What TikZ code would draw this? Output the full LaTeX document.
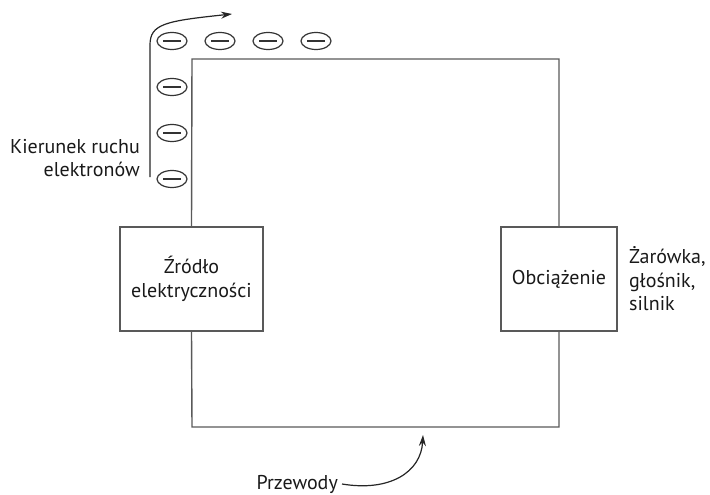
\documentclass[tikz,border=0pt]{standalone}
\usepackage{fontspec}
\setmainfont{PT Sans}
\usetikzlibrary{shapes.geometric,arrows.meta}
\tikzset{
  wire/.style={draw=black!65, line width=1.4pt},
  unit/.style={draw=black!65, line width=1.4pt, minimum width=116pt, minimum height=104pt, align=center, inner sep=0pt},
  electron/.style={ellipse, draw=black!80, line width=1.2pt, minimum width=30pt, minimum height=17pt, inner sep=0pt,
    path picture={\draw[line width=1.2pt, black!80] ([xshift=-9pt]path picture bounding box.center) -- ([xshift=9pt]path picture bounding box.center);}},
  lbl/.style={inner sep=0pt, align=left},
  pointer/.style={draw=black!85, line width=1.2pt, -{Stealth[length=11pt,width=7pt]}}
}
\begin{document}
\begin{tikzpicture}[x=1pt, y=-1pt, font=\fontsize{20}{23.5}\selectfont, text=black!90]
  \useasboundingbox (0,0) rectangle (710,495);
  \node[unit, minimum width=143pt] (src) at (191.5,279) {Źródło\\elektryczności};
  \node[unit] (load) at (559,279) {Obciążenie};
  \coordinate (tl) at (192,59);
  \coordinate (tr) at (559,59);
  \coordinate (bl) at (192,427);
  \coordinate (br) at (559,427);
  \begin{scope}[wire]
    \draw (src.north) -- (tl) -- (tr) -- (load.north);
    \draw (src.south) -- (bl) -- (br) -- (load.south);
  \end{scope}
  \draw
    (172,41) node[electron] (e1){}
    (220,41) node[electron] (e2){}
    (268,41) node[electron] (e3){}
    (316,41) node[electron] (e4){}
    (172,87) node[electron] (e5){}
    (172,133) node[electron] (e6){}
    (172,179) node[electron] (e7){};
  \node[lbl, align=right, anchor=east] (dir) at (140,158) {Kierunek ruchu\\elektronów};
  \node[lbl, anchor=west] (kinds) at (629,279) {Żarówka,\\głośnik,\\silnik};
  \node[lbl, anchor=east, inner sep=4pt] (przew) at (342,484) {Przewody};
  \coordinate (flow0) at (150,177);
  \coordinate (flow1) at (232,14);
  \coordinate (wiretip) at (423,435);
  \draw[pointer] (flow0) -- (150,45) .. controls (150,24) and (165,21) .. (flow1);
  \draw[pointer] (przew.east) .. controls (390,492) and (421,472) .. (wiretip);
\end{tikzpicture}
\end{document}
